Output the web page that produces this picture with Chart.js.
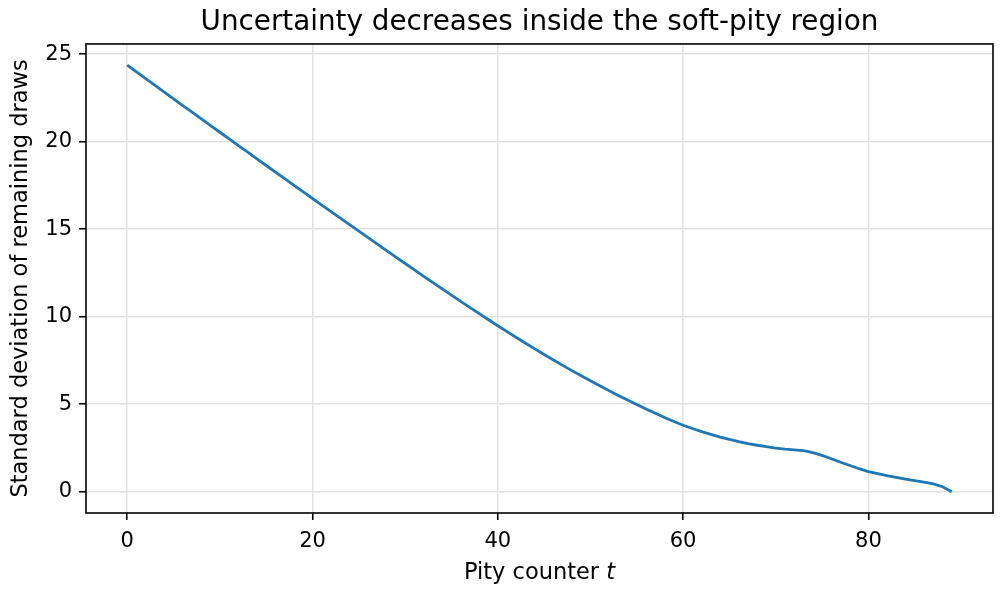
<!DOCTYPE html>
<html>
<head>
<meta charset="utf-8">
<script src="https://cdn.jsdelivr.net/npm/chart.js@4.4.1/dist/chart.umd.min.js"></script>
<style>
  body { margin: 0; background: #fff; }
  #wrap { width: 1003px; height: 592px; }
</style>
</head>
<body>
<div id="wrap"><canvas id="myChart" width="1003" height="592"></canvas></div>
<script>
// pity counter t (x) and std dev of remaining draws (y)
const pityCounter = [0, 1, 2, 3, 4, 5, 6, 7, 8, 9, 10, 11, 12, 13, 14, 15, 16, 17, 18, 19,
  20, 21, 22, 23, 24, 25, 26, 27, 28, 29, 30, 31, 32, 33, 34, 35, 36, 37, 38, 39,
  40, 41, 42, 43, 44, 45, 46, 47, 48, 49, 50, 51, 52, 53, 54, 55, 56, 57, 58, 59,
  60, 61, 62, 63, 64, 65, 66, 67, 68, 69, 70, 71, 72, 73, 74, 75, 76, 77, 78, 79,
  80, 81, 82, 83, 84, 85, 86, 87, 88, 89];
const stdRemaining = [24.37, 23.984, 23.599, 23.214, 22.830, 22.446, 22.063, 21.680, 21.298, 20.916,
  20.535, 20.154, 19.774, 19.394, 19.015, 18.636, 18.258, 17.880, 17.503, 17.126,
  16.750, 16.374, 15.999, 15.625, 15.252, 14.880, 14.509, 14.139, 13.770, 13.402,
  13.035, 12.669, 12.305, 11.943, 11.583, 11.225, 10.870, 10.518, 10.169, 9.823,
  9.481, 9.143, 8.809, 8.480, 8.156, 7.837, 7.524, 7.217, 6.916, 6.621,
  6.332, 6.050, 5.772, 5.500, 5.234, 4.975, 4.723, 4.478, 4.241, 4.012,
  3.791, 3.606, 3.431, 3.268, 3.118, 2.981, 2.858, 2.748, 2.651, 2.566,
  2.493, 2.431, 2.381, 2.341, 2.231, 2.071, 1.881, 1.681, 1.491, 1.311,
  1.146, 1.026, 0.916, 0.816, 0.721, 0.631, 0.541, 0.446, 0.280, 0.000];
const xTicks = [0, 20, 40, 60, 80];
const yTicks = [0, 5, 10, 15, 20, 25];

const FONT = "'DejaVu Sans', sans-serif";

// frame + x label with italic t
const framePlugin = {
  id: 'frame',
  afterDraw(chart) {
    const {ctx, chartArea: a} = chart;
    ctx.save();
    ctx.strokeStyle = '#000';
    ctx.lineWidth = 1.6;
    ctx.strokeRect(a.left, a.top, a.right - a.left, a.bottom - a.top);

    ctx.fillStyle = '#000';
    ctx.textBaseline = 'alphabetic';
    ctx.textAlign = 'left';
    const part1 = 'Pity counter ';
    ctx.font = '22.5px ' + FONT;
    const w1 = ctx.measureText(part1).width;
    ctx.font = 'italic 22.5px ' + FONT;
    const w2 = ctx.measureText('t').width;
    const x0 = (a.left + a.right) / 2 - (w1 + w2) / 2;
    ctx.font = '22.5px ' + FONT;
    ctx.fillText(part1, x0, 579);
    ctx.font = 'italic 22.5px ' + FONT;
    ctx.fillText('t', x0 + w1, 579);
    ctx.restore();
  }
};

const ctx = document.getElementById('myChart').getContext('2d');
const myChart = new Chart(ctx, {
  type: 'line',
  data: {
    datasets: [{
      data: pityCounter.map((t, i) => ({x: t, y: stdRemaining[i]})),
      borderColor: '#1f77b4',
      borderWidth: 2.8,
      pointRadius: 0,
      tension: 0,
      fill: false
    }]
  },
  options: {
    responsive: false,
    animation: false,
    layout: { padding: { left: 0, right: 10, top: 0, bottom: 0 } },
    plugins: {
      legend: { display: false },
      tooltip: { enabled: false },
      title: {
        display: true,
        text: 'Uncertainty decreases inside the soft-pity region',
        fullSize: false,
        color: '#000',
        font: { family: FONT, size: 27.8, weight: 'normal' },
        padding: { top: 6, bottom: 4.6 }
      }
    },
    scales: {
      x: {
        type: 'linear',
        min: -4.45,
        max: 93.45,
        afterBuildTicks: s => { s.ticks = xTicks.map(v => ({value: v})); },
        afterFit: s => { s.height = 79; },
        grid: { color: '#e2e2e2', lineWidth: 1.5, tickColor: '#000', tickLength: 7, tickWidth: 1.6 },
        border: { display: false },
        ticks: { color: '#000', font: { family: FONT, size: 21 }, padding: 9, maxRotation: 0, autoSkip: false }
      },
      y: {
        min: -1.22,
        max: 25.58,
        afterBuildTicks: s => { s.ticks = yTicks.map(v => ({value: v})); },
        afterFit: s => { s.width = 86; },
        grid: { color: '#e2e2e2', lineWidth: 1.5, tickColor: '#000', tickLength: 7, tickWidth: 1.6 },
        border: { display: false },
        ticks: { color: '#000', font: { family: FONT, size: 21 }, padding: 7 },
        title: {
          display: true,
          text: 'Standard deviation of remaining draws',
          color: '#000',
          font: { family: FONT, size: 22.5 },
          padding: { top: 7.5, bottom: 0 }
        }
      }
    }
  },
  plugins: [framePlugin]
});
</script>
</body>
</html>
